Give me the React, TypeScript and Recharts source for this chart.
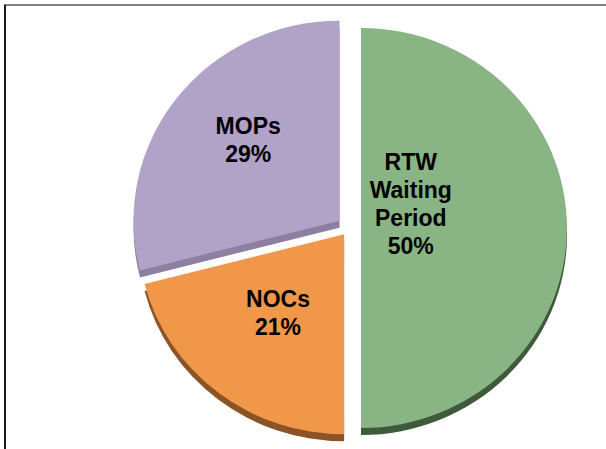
import React from "react";
import { PieChart, Pie, Cell } from "recharts";

const NAMES = ["MOPs", "NOCs", "RTW Waiting Period"];
const VALUES = [29, 21, 50];

const FILLS = ["#b1a2c8", "#f0974a", "#89b585"];
const SIDES = ["#8d7fa2", "#8c5426", "#3e5a3b"];

const CX = 349;
const CY = 228;
const R = 200;
const SX = 1.03;
const EXPLODE = [12, 8, 12];
const DEPTH = 7;
const LABEL_RADIUS = [0.59, 0.53, 0.24];
const LABEL_SHIFT = [[5, -8], [1, -5], [0, -24]];
const LINE_H = 28;

const data = NAMES.map((name, i) => ({ name, value: VALUES[i] }));
const total = VALUES.reduce((a, b) => a + b, 0);

// mid angle of each slice (deg), pie runs counter-clockwise from 12 o'clock
const mids = (() => {
  let acc = 90;
  return VALUES.map((v) => {
    const span = (v / total) * 360;
    const m = acc + span / 2;
    acc += span;
    return m;
  });
})();

// explode each slice outward and stretch it a little sideways
const sliceTransform = (i: number, cy: number) => {
  const a = (mids[i] * Math.PI) / 180;
  const dx = EXPLODE[i] * Math.cos(a);
  const dy = -EXPLODE[i] * Math.sin(a);
  return `translate(${CX + dx} ${cy + dy}) scale(${SX} 1) translate(${-CX} ${-cy})`;
};

const renderLabel = (props: any) => {
  const { index, midAngle, name, percent } = props;
  const a = (midAngle * Math.PI) / 180;
  const d = EXPLODE[index] + LABEL_RADIUS[index] * R;
  const x = CX + d * Math.cos(a) * SX + LABEL_SHIFT[index][0];
  const y = CY - d * Math.sin(a) + LABEL_SHIFT[index][1];
  const lines = [...String(name).split(" "), `${Math.round(percent * 100)}%`];
  const y0 = y - ((lines.length - 1) * LINE_H) / 2;
  return (
    <text
      key={`lbl-${index}`}
      x={x}
      y={y0}
      textAnchor="middle"
      dominantBaseline="central"
      fill="#000"
      fontFamily="'Liberation Sans', Arial, sans-serif"
      fontWeight="bold"
      fontSize={23}
    >
      {lines.map((t, j) => (
        <tspan key={j} x={x} dy={j === 0 ? 0 : LINE_H}>
          {t}
        </tspan>
      ))}
    </text>
  );
};

export default function App() {
  return (
    <div style={{ position: "absolute", left: 0, top: 0, width: 606, height: 449, background: "#fff" }}>
      <div style={{ position: "absolute", left: 4, top: 4, width: 602, height: 2, background: "#7f7f7f" }} />
      <div style={{ position: "absolute", left: 4, top: 5, width: 2, height: 444, background: "#1a1a1a" }} />
      <div style={{ position: "absolute", left: 0, top: 0 }}>
        <PieChart width={606} height={449} margin={{ top: 0, right: 0, bottom: 0, left: 0 }}>
          <Pie
            data={data}
            dataKey="value"
            nameKey="name"
            cx={CX}
            cy={CY + DEPTH}
            outerRadius={R}
            startAngle={90}
            endAngle={450}
            stroke="none"
            isAnimationActive={false}
          >
            {data.map((d, i) => (
              <Cell key={d.name} fill={SIDES[i]} transform={sliceTransform(i, CY + DEPTH)} />
            ))}
          </Pie>
          <Pie
            data={data}
            dataKey="value"
            nameKey="name"
            cx={CX}
            cy={CY}
            outerRadius={R}
            startAngle={90}
            endAngle={450}
            stroke="none"
            label={renderLabel}
            labelLine={false}
            isAnimationActive={false}
          >
            {data.map((d, i) => (
              <Cell key={d.name} fill={FILLS[i]} transform={sliceTransform(i, CY)} />
            ))}
          </Pie>
        </PieChart>
      </div>
    </div>
  );
}
